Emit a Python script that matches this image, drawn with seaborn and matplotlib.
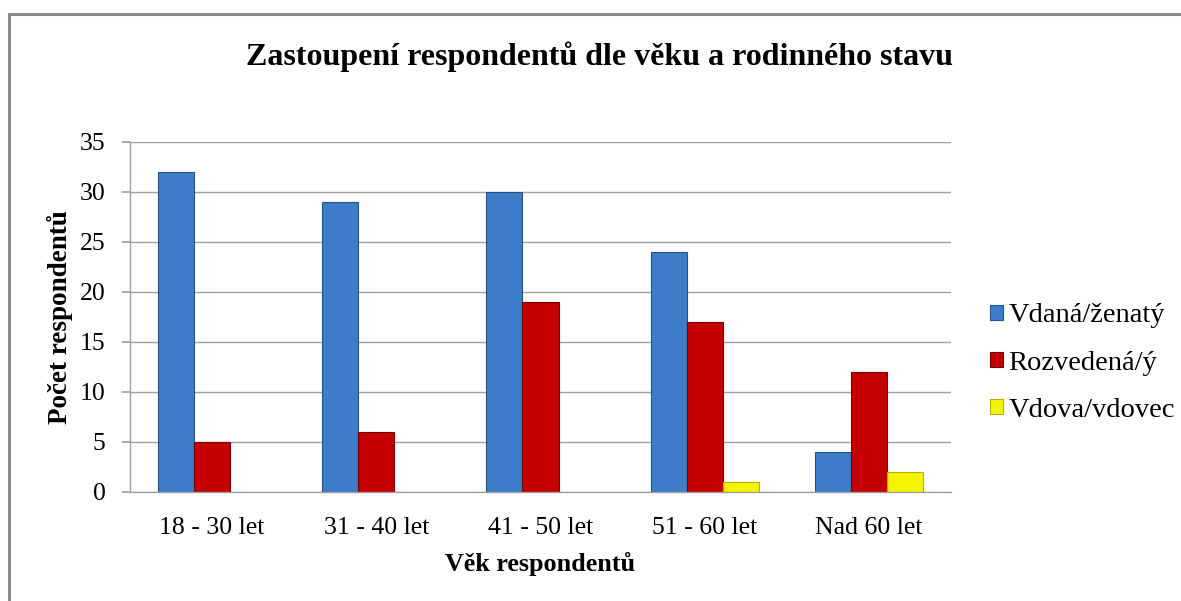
import numpy as np
import pandas as pd
import matplotlib
matplotlib.use('Agg')
import matplotlib.pyplot as plt
import seaborn as sns
from matplotlib.patches import Rectangle

# data
kategorie = ['18 - 30 let', '31 - 40 let', '41 - 50 let', '51 - 60 let', 'Nad 60 let']
vdana = [32, 29, 30, 24, 4]
rozvedena = [5, 6, 19, 17, 12]
vdova = [0, 0, 0, 1, 2]
serie = ['Vdaná/ženatý', 'Rozvedená/ý', 'Vdova/vdovec']
barvy = ['#3d7cc9', '#c40000', '#f5f500']
hrany = ['#24528c', '#7a0000', '#b0b000']

df = pd.DataFrame({
    'vek': kategorie * 3,
    'stav': [serie[0]] * 5 + [serie[1]] * 5 + [serie[2]] * 5,
    'pocet': vdana + rozvedena + vdova,
})

sns.set_theme(style='white')
plt.rcParams['font.family'] = ['Liberation Serif', 'DejaVu Serif']
plt.rcParams['text.color'] = 'black'
plt.rcParams['axes.labelcolor'] = 'black'
plt.rcParams['xtick.color'] = 'black'
plt.rcParams['ytick.color'] = 'black'

fig = plt.figure(figsize=(11.81, 6.01), dpi=100)
ax = fig.add_axes([0.1101, 0.1814, 0.6952, 0.5824])

sns.barplot(data=df, x='vek', y='pocet', hue='stav', hue_order=serie,
            palette=barvy, width=0.66, gap=0, ax=ax, legend=False,
            saturation=1, linewidth=0.8)

for i, cont in enumerate(ax.containers):
    for b in cont:
        b.set_edgecolor(hrany[i])
        if b.get_height() == 0:
            b.set_visible(False)

ax.set_ylim(0, 35)
ax.set_xlim(-0.5, 4.5)
ax.set_yticks(range(0, 36, 5))
ax.yaxis.grid(True, color='#a0a0a0', lw=1)
ax.set_axisbelow(True)
for s in ['top', 'right']:
    ax.spines[s].set_visible(False)
for s in ['left', 'bottom']:
    ax.spines[s].set_color('#a0a0a0')
    ax.spines[s].set_linewidth(1)
ax.tick_params(axis='y', which='major', left=True, length=6, color='#a0a0a0',
               labelcolor='black', labelsize=18.5, pad=11.5)
ax.tick_params(axis='x', bottom=False, labelsize=18.5, labelcolor='black', pad=12)

ax.set_xlabel('Věk respondentů', fontsize=18.8, fontweight='bold', labelpad=9)
ax.set_ylabel('Počet respondentů', fontsize=19.5, fontweight='bold', labelpad=5)

fig.text(0.508, 1 - 57 / 601, 'Zastoupení respondentů dle věku a rodinného stavu',
         fontsize=23, fontweight='bold', ha='center', va='center')

handles = [Rectangle((0, 0), 1, 1, facecolor=barvy[i], edgecolor=hrany[i], lw=0.8)
           for i in range(3)]
fig.legend(handles, serie, loc='center left', bbox_to_anchor=(990 / 1181, 0.396),
           frameon=False, fontsize=20.5, handlelength=0.45, handleheight=0.45,
           handletextpad=0.2, labelspacing=0.78, borderpad=0, borderaxespad=0)

# ramecek grafu
fig.patches.append(Rectangle((9 / 1181, -0.05), 1.1, 1 - 14 / 601 + 0.05,
                             transform=fig.transFigure, fill=False,
                             edgecolor='#8a8a8a', lw=2.2))

fig.savefig('out.png', dpi=100)
